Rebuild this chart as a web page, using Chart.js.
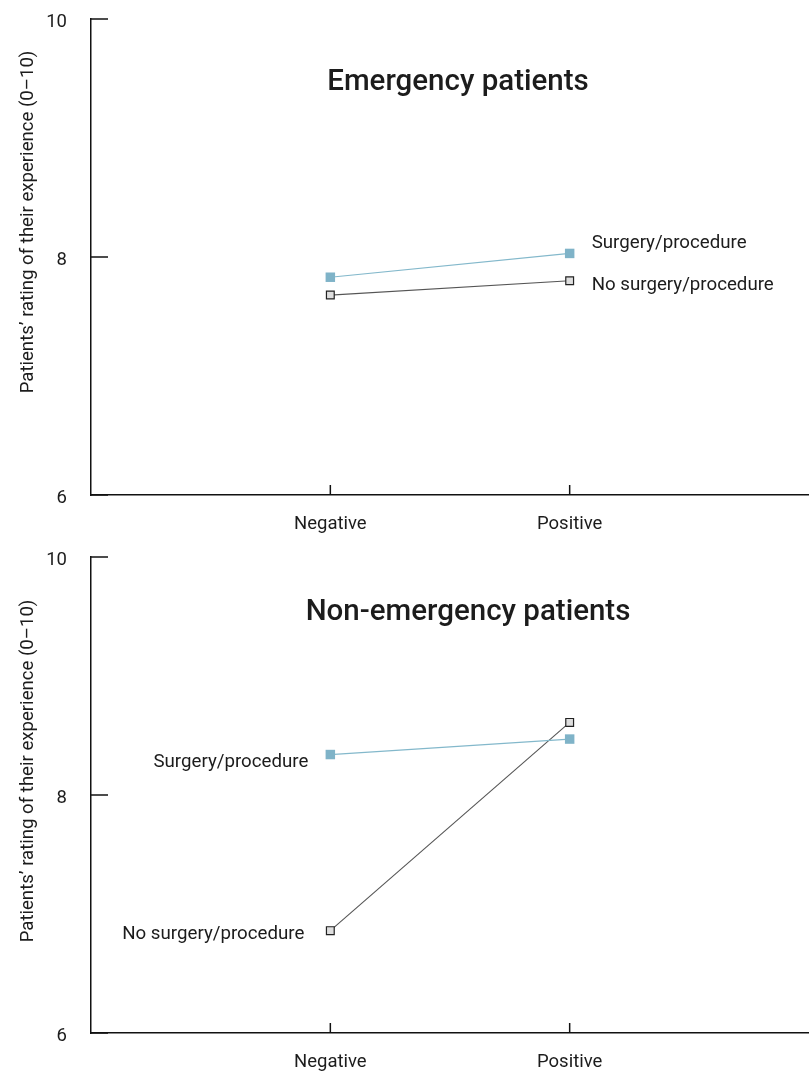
<!DOCTYPE html>
<html>
<head>
<meta charset="utf-8">
<script src="https://cdn.jsdelivr.net/npm/chart.js@4.4.1/dist/chart.umd.min.js"></script>
<style>
    html, body { margin: 0; padding: 0; background: #fff; }
    .panel { position: relative; width: 809px; height: 536px; }
</style>
</head>
<body>
<div class="panel"><canvas id="emergency"></canvas></div>
<div class="panel"><canvas id="non-emergency"></canvas></div>
<script>
const categories = ["Negative", "Positive"];
const yTicks = [6, 8, 10];
const seriesNames = ["Surgery/procedure", "No surgery/procedure"];

const emergencySurgery = [7.83, 8.03];
const emergencyNoSurgery = [7.68, 7.80];
const nonEmergencySurgery = [8.34, 8.47];
const nonEmergencyNoSurgery = [6.86, 8.61];

const yTitle = "Patients\u2019 rating of their experience (0\u201310)";
const FONT = "Roboto";
const TEXT = "#1c1c1c";
const AXIS = "#111";
const SURGERY_COLOR = "#83b8cb";

function toPoints(values) {
    return values.map((v, i) => ({ x: i + 1, y: v }));
}

// ticks on this chart point inward, so draw them ourselves from the scales
const panelDecor = {
    id: "panelDecor",
    afterDraw(chart, args, opts) {
        const ctx = chart.ctx;
        const area = chart.chartArea;
        const xs = chart.scales.x;
        const ys = chart.scales.y;

        ctx.save();
        ctx.strokeStyle = AXIS;
        ctx.lineWidth = 1.5;
        yTicks.forEach((t) => {
            let y = ys.getPixelForValue(t);
            ctx.beginPath();
            ctx.moveTo(area.left, y);
            ctx.lineTo(area.left + 17, y);
            ctx.stroke();
        });
        categories.forEach((c, i) => {
            let x = xs.getPixelForValue(i + 1);
            ctx.beginPath();
            ctx.moveTo(x, area.bottom);
            ctx.lineTo(x, area.bottom - 10);
            ctx.stroke();
        });

        // rotated y-axis title
        ctx.fillStyle = TEXT;
        ctx.font = "18.6px " + FONT;
        ctx.translate(33, (area.top + area.bottom) / 2 + opts.yTitleShift);
        ctx.rotate(-Math.PI / 2);
        ctx.textAlign = "center";
        ctx.textBaseline = "alphabetic";
        ctx.fillText(yTitle, 0, 0);
        ctx.restore();

        // panel title
        ctx.save();
        ctx.fillStyle = TEXT;
        ctx.font = "500 29.5px " + FONT;
        ctx.textAlign = "center";
        ctx.textBaseline = "middle";
        ctx.fillText(opts.title, opts.titleX, opts.titleY);

        // series labels next to the end points
        ctx.font = "18.7px " + FONT;
        chart.data.datasets.forEach((ds, di) => {
            let idx = opts.labelAt;
            let px = xs.getPixelForValue(idx + 1);
            let py = ys.getPixelForValue(ds.data[idx].y) + opts.labelDy[di];
            if (opts.labelSide === "right") {
                ctx.textAlign = "left";
                ctx.fillText(ds.label, px + 22, py);
            } else {
                ctx.textAlign = "right";
                ctx.fillText(ds.label, px - opts.labelDx[di], py);
            }
        });
        ctx.restore();
    }
};

function initPanel(id, surgery, noSurgery, decor, topPad, xHeight) {
    let ctx = document.getElementById(id).getContext("2d");

    return new Chart(ctx, {
        type: "line",
        data: {
            datasets: [
                {
                    label: seriesNames[0],
                    data: toPoints(surgery),
                    borderColor: SURGERY_COLOR,
                    borderWidth: 1.2,
                    backgroundColor: SURGERY_COLOR,
                    pointStyle: "rect",
                    pointRadius: 6.7,
                    pointBorderWidth: 0,
                    pointBackgroundColor: "#7fb3c8",
                    fill: false
                },
                {
                    label: seriesNames[1],
                    data: toPoints(noSurgery),
                    borderColor: "#555",
                    borderWidth: 1.1,
                    pointStyle: "rect",
                    pointRadius: 5.5,
                    pointBorderWidth: 1.2,
                    pointBorderColor: "#222",
                    pointBackgroundColor: "#dedede",
                    fill: false
                }
            ]
        },
        options: {
            responsive: false,
            animation: false,
            layout: {
                autoPadding: false,
                padding: { top: topPad, right: 0, bottom: 0, left: 0 }
            },
            plugins: {
                legend: { display: false },
                tooltip: { enabled: false },
                panelDecor: decor
            },
            scales: {
                x: {
                    type: "linear",
                    min: 0,
                    max: 3,
                    afterBuildTicks: (scale) => {
                        scale.ticks = categories.map((c, i) => ({ value: i + 1 }));
                    },
                    afterFit: (scale) => {
                        scale.height = xHeight;
                        scale.paddingLeft = 0;
                        scale.paddingRight = 0;
                    },
                    ticks: {
                        autoSkip: false,
                        maxRotation: 0,
                        padding: 10,
                        color: TEXT,
                        font: { family: FONT, size: 18.5 },
                        callback: (v) => categories[v - 1]
                    },
                    grid: { display: false },
                    border: { display: true, color: AXIS, width: 1.5 }
                },
                y: {
                    min: 6,
                    max: 10,
                    afterBuildTicks: (scale) => {
                        scale.ticks = yTicks.map((v) => ({ value: v }));
                    },
                    afterFit: (scale) => {
                        scale.width = 91;
                        scale.paddingTop = 0;
                        scale.paddingBottom = 0;
                    },
                    ticks: {
                        padding: 16,
                        labelOffset: 3,
                        color: TEXT,
                        font: { family: FONT, size: 18.5 }
                    },
                    grid: { display: false },
                    border: { display: true, color: AXIS, width: 1.5 }
                }
            }
        },
        plugins: [panelDecor]
    });
}

document.getElementById("emergency").width = 809;
document.getElementById("emergency").height = 536;
document.getElementById("non-emergency").width = 809;
document.getElementById("non-emergency").height = 536;

initPanel("emergency", emergencySurgery, emergencyNoSurgery, {
    title: "Emergency patients",
    titleX: 458,
    titleY: 83,
    yTitleShift: -35,
    labelSide: "right",
    labelAt: 1,
    labelDy: [-10, 5],
    labelDx: [0, 0]
}, 19, 41);

initPanel("non-emergency", nonEmergencySurgery, nonEmergencyNoSurgery, {
    title: "Non-emergency patients",
    titleX: 468,
    titleY: 77,
    yTitleShift: -24,
    labelSide: "left",
    labelAt: 0,
    labelDy: [8, 4],
    labelDx: [22, 26]
}, 21, 39);
</script>
</body>
</html>
